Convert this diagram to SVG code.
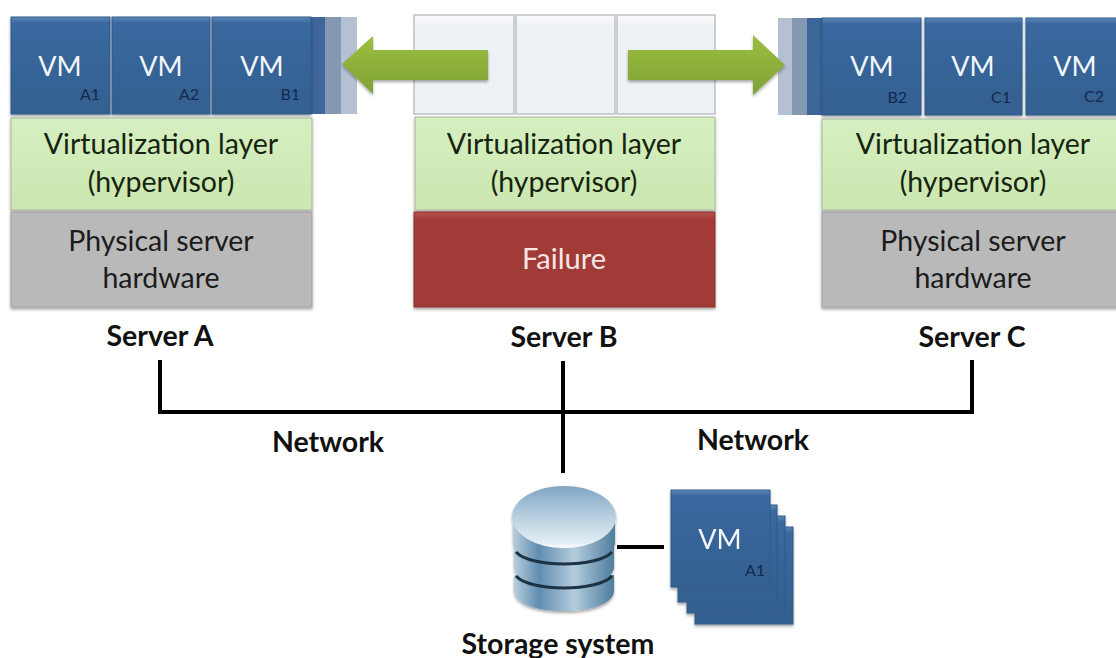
<svg xmlns="http://www.w3.org/2000/svg" width="1116" height="658" viewBox="0 0 1116 658">
<defs>
<linearGradient id="gv" x1="0" y1="0" x2="0" y2="1"><stop offset="0" stop-color="#5d87b8"/><stop offset="0.06" stop-color="#3a689f"/><stop offset="1" stop-color="#33608f"/></linearGradient>
<linearGradient id="ga" x1="0" y1="0" x2="0" y2="1"><stop offset="0" stop-color="#9cbf3f"/><stop offset="1" stop-color="#7fa035"/></linearGradient>
<linearGradient id="gd" x1="0" y1="0" x2="0" y2="1"><stop offset="0" stop-color="#7fa6c4"/><stop offset="0.5" stop-color="#b9d0e0"/><stop offset="0.92" stop-color="#e4edf3"/><stop offset="1" stop-color="#ffffff"/></linearGradient>
<linearGradient id="gs" x1="0" y1="0" x2="1" y2="0"><stop offset="0" stop-color="#b7cddc"/><stop offset="0.25" stop-color="#5f8db0"/><stop offset="0.6" stop-color="#b4cddd"/><stop offset="1" stop-color="#4d7c9c"/></linearGradient>
<linearGradient id="gg" x1="0" y1="0" x2="0" y2="1"><stop offset="0" stop-color="#d6efc0"/><stop offset="1" stop-color="#cbe6b0"/></linearGradient>
<linearGradient id="ge" x1="0" y1="0" x2="0" y2="1"><stop offset="0" stop-color="#fbfcfd"/><stop offset="0.12" stop-color="#eef1f5"/><stop offset="1" stop-color="#edf0f4"/></linearGradient>
<linearGradient id="gr" x1="0" y1="0" x2="0" y2="1"><stop offset="0" stop-color="#b8524e"/><stop offset="0.08" stop-color="#a23b38"/><stop offset="1" stop-color="#a03a37"/></linearGradient>
<filter id="sh" x="-10%" y="-10%" width="120%" height="125%"><feDropShadow dx="0" dy="2" stdDeviation="1.5" flood-color="#000" flood-opacity="0.35"/></filter>
</defs>
<style>
text{font-family:"Lato","Liberation Sans",sans-serif;text-anchor:middle}
.vm{fill:url(#gv);stroke:#2f5a88;stroke-width:1}
.em{fill:url(#ge);stroke:#bcc1c8;stroke-width:1.5}
.gr{fill:url(#gg);stroke:#a8b5a0;stroke-width:1}
.hw{fill:#b9b9b9;stroke:#a0a0a0;stroke-width:1}
.vt{fill:#f2f6fb;font-size:27px}
.vs{fill:#12294e;font-size:16px;text-anchor:end}
.lt{fill:#16240f;font-size:28.5px}
.hl{fill:#1c1c1c;font-size:28.5px}
.lb{fill:#111;font-size:28.5px;font-weight:700}
.ln{fill:none;stroke:#000;stroke-width:4}
.ar{fill:url(#ga);filter:url(#sh)}
.gv{fill:none;stroke:#1d3242;stroke-width:3}
</style>

<g id="server-a">
<rect x="341" y="17" width="16" height="97" fill="#b4c1d2"/>
<rect x="325" y="17" width="16" height="97" fill="#8598b2"/>
<rect x="311" y="17" width="14" height="97" fill="#3d669b"/>
<g filter="url(#sh)">
<rect class="vm" x="11" y="17" width="99" height="97"/>
<rect class="vm" x="112" y="17" width="98" height="97"/>
<rect class="vm" x="212" y="17" width="99" height="97"/>
</g>
<text class="vt" x="60" y="76">VM</text><text class="vs" x="100" y="100">A1</text>
<text class="vt" x="161" y="76">VM</text><text class="vs" x="199" y="100">A2</text>
<text class="vt" x="262" y="76">VM</text><text class="vs" x="300" y="100">B1</text>
<rect class="gr" x="11" y="118" width="301" height="92" filter="url(#sh)"/>
<text class="lt" x="161" y="154">Virtualization layer</text>
<text class="lt" x="161" y="192">(hypervisor)</text>
<rect class="hw" x="11" y="212" width="301" height="95" filter="url(#sh)"/>
<text class="hl" x="161" y="251">Physical server</text>
<text class="hl" x="161" y="288">hardware</text>
<text class="lb" x="160" y="346">Server A</text>
</g>

<g id="server-b">
<rect class="em" x="414" y="15" width="100" height="99"/>
<rect class="em" x="516" y="15" width="99" height="99"/>
<rect class="em" x="617" y="15" width="98" height="99"/>
<rect class="gr" x="415" y="117" width="300" height="93" filter="url(#sh)"/>
<text class="lt" x="564" y="154">Virtualization layer</text>
<text class="lt" x="564" y="192">(hypervisor)</text>
<rect x="414" y="212" width="301" height="95" fill="url(#gr)" stroke="#8c3330" filter="url(#sh)"/>
<text x="564" y="269" fill="#f4e6e4" font-size="29">Failure</text>
<text class="lb" x="564" y="347">Server B</text>
</g>

<g id="server-c">
<rect x="778" y="18" width="14" height="97" fill="#b4c1d2"/>
<rect x="792" y="18" width="15" height="97" fill="#8598b2"/>
<rect x="807" y="18" width="15" height="97" fill="#3d669b"/>
<g filter="url(#sh)">
<rect class="vm" x="822" y="18" width="99" height="97"/>
<rect class="vm" x="925" y="18" width="97" height="97"/>
<rect class="vm" x="1026" y="18" width="100" height="97"/>
</g>
<text class="vt" x="872" y="76">VM</text><text class="vs" x="907" y="103">B2</text>
<text class="vt" x="973" y="76">VM</text><text class="vs" x="1011" y="103">C1</text>
<text class="vt" x="1075" y="76">VM</text><text class="vs" x="1104" y="102">C2</text>
<rect class="gr" x="822" y="119" width="304" height="91" filter="url(#sh)"/>
<text class="lt" x="973" y="154">Virtualization layer</text>
<text class="lt" x="973" y="192">(hypervisor)</text>
<rect class="hw" x="822" y="212" width="304" height="95" filter="url(#sh)"/>
<text class="hl" x="973" y="251">Physical server</text>
<text class="hl" x="973" y="288">hardware</text>
<text class="lb" x="972" y="347">Server C</text>
</g>

<g id="migration-arrows">
<path class="ar" d="M342 64L373 36V50H488V80H373V94Z"/>
<path class="ar" d="M785 65L753 35V50H628V80H753V95Z"/>
</g>

<g id="connectors">
<path class="ln" d="M160 360V412H972V360"/>
<path class="ln" d="M563 361V473"/>
<path class="ln" d="M617 547H664"/>
</g>
<text class="lb" x="328" y="452">Network</text>
<text class="lb" x="753" y="450">Network</text>

<g id="storage">
<g filter="url(#sh)">
<path d="M514 575V590C514 604 536 611 564 611C592 611 614 604 614 590V575Z" fill="url(#gs)"/>
<path d="M514 545V566C514 580 536 587 564 587C592 587 614 580 614 566V545Z" fill="url(#gs)"/>
<path d="M513 517V542C513 556 536 564 564 564C592 564 615 556 615 542V517Z" fill="url(#gs)"/>
<ellipse cx="564" cy="517" rx="52" ry="31" fill="url(#gd)"/>
</g>
<path class="gv" d="M516 552C530 568 598 568 612 552"/>
<path class="gv" stroke-width="2" d="M516 576C530 592 598 592 612 576"/>
<text class="lb" x="558" y="654">Storage system</text>
</g>

<g id="vm-stack" filter="url(#sh)">
<rect class="vm" x="695" y="527" width="98" height="97"/>
<rect class="vm" x="687" y="516" width="98" height="97"/>
<rect class="vm" x="678" y="505" width="99" height="97"/>
<rect class="vm" x="671" y="490" width="99" height="97"/>
<text class="vt" x="720" y="549">VM</text>
<text class="vs" x="765" y="576">A1</text>
</g>
</svg>
